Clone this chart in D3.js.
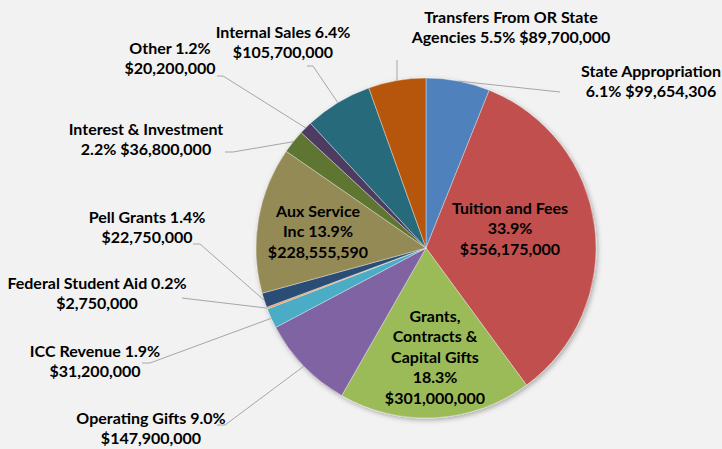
<!DOCTYPE html>
<html>
<head>
<meta charset="utf-8">
<script src="https://cdn.jsdelivr.net/npm/d3@7"></script>
<style>
  html, body { margin: 0; padding: 0; background: #f2f2f2; }
  svg { display: block; }
  text { font-family: Lato, "Open Sans", sans-serif; font-weight: 700; fill: #000; }
</style>
</head>
<body>
<svg id="chart"></svg>
<script>
const width = 722, height = 449;

// données (ordre horaire depuis midi)
const categories = ["State Appropriation", "Tuition and Fees", "Grants, Contracts & Capital Gifts",
  "Operating Gifts", "ICC Revenue", "Federal Student Aid", "Pell Grants", "Aux Service Inc",
  "Interest & Investment", "Other", "Internal Sales", "Transfers From OR State Agencies"];
const values = [99654306, 556175000, 301000000, 147900000, 31200000, 2750000,
  22750000, 228555590, 36800000, 20200000, 105700000, 89700000];
// texte des étiquettes, {p} = pourcentage, {v} = montant
const labelLines = [
  ["State Appropriation", "{p} {v}"],
  ["Tuition and Fees", "{p}", "{v}"],
  ["Grants,", "Contracts &", "Capital Gifts", "{p}", "{v}"],
  ["Operating Gifts {p}", "{v}"],
  ["ICC Revenue {p}", "{v}"],
  ["Federal Student Aid {p}", "{v}"],
  ["Pell Grants {p}", "{v}"],
  ["Aux Service", "Inc {p}", "{v}"],
  ["Interest & Investment", "{p} {v}"],
  ["Other {p}", "{v}"],
  ["Internal Sales {p}", "{v}"],
  ["Transfers From OR State", "Agencies {p} {v}"]
];

const colors = ["#4f81bd", "#c0504d", "#9bbb59", "#8064a2", "#4bacc6", "#f79646",
  "#2c4d75", "#948a54", "#5f7530", "#4d3b62", "#276a7c", "#b65708"];

// placement des étiquettes : centre x, y de la 1re ligne, coude de la ligne de rappel
const labelPos = [
  {x: 651, y: 71, elbow: [560, 92]},
  {x: 510, y: 208, inside: true},
  {x: 435, y: 316, inside: true},
  {x: 151, y: 418, elbow: [225, 425], end: [217, 425]},
  {x: 95, y: 351, elbow: [150, 363], end: [142, 363]},
  {x: 97, y: 283, elbow: [182, 298], end: [182, 298]},
  {x: 147, y: 217, elbow: [200, 244], end: [193, 244]},
  {x: 318, y: 211, inside: true},
  {x: 146, y: 129, elbow: [233, 152], end: [225, 152]},
  {x: 170, y: 48, elbow: [223, 76], end: [217, 76]},
  {x: 283, y: 32, elbow: [313, 66], end: [307, 66]},
  {x: 511, y: 17, elbow: [397, 60]}
];

const cx = 426, cy = 248, radius = 170, lineH = 20.5;

const svg = d3.select("#chart").attr("width", width).attr("height", height);

const defs = svg.append("defs");
const f = defs.append("filter").attr("id", "shadow")
  .attr("x", "-10%").attr("y", "-10%").attr("width", "130%").attr("height", "130%");
f.append("feDropShadow").attr("dx", 1.5).attr("dy", 2).attr("stdDeviation", 2.5)
  .attr("flood-color", "#000").attr("flood-opacity", 0.3);

const total = d3.sum(values);
const fmtPct = d3.format(".1%");
const fmtVal = d3.format("$,");

const data = categories.map((c, i) => ({
  name: c, value: values[i], color: colors[i],
  lines: labelLines[i].map(s => s.replace("{p}", fmtPct(values[i] / total)).replace("{v}", fmtVal(values[i]))),
  pos: labelPos[i]
}));

const pie = d3.pie().value(d => d.value).sort(null);
const arc = d3.arc().innerRadius(0).outerRadius(radius);
const arcs = pie(data);

const g = svg.append("g").attr("transform", `translate(${cx},${cy})`);

g.append("g").attr("filter", "url(#shadow)")
  .selectAll("path")
  .data(arcs)
  .enter().append("path")
  .attr("d", arc)
  .attr("fill", d => d.data.color)
  .attr("stroke", "#f2f2f2")
  .attr("stroke-width", 0.4);

// lignes de rappel
const edge = d3.arc().innerRadius(radius).outerRadius(radius);
svg.selectAll(".leader")
  .data(arcs.filter(d => !d.data.pos.inside))
  .enter().append("polyline")
  .attr("class", "leader")
  .attr("fill", "none")
  .attr("stroke", "#a6a6a6")
  .attr("stroke-width", 1)
  .attr("points", d => {
    const c = edge.centroid(d);
    const pts = [[cx + c[0], cy + c[1]], d.data.pos.elbow];
    if (d.data.pos.end) pts.push(d.data.pos.end);
    return pts.map(p => p.join(",")).join(" ");
  });

// étiquettes
const labels = svg.selectAll(".label")
  .data(data)
  .enter().append("text")
  .attr("class", "label")
  .attr("text-anchor", "middle")
  .attr("font-size", 16)
  .attr("transform", d => `translate(${d.pos.x},${d.pos.y})`);

labels.selectAll("tspan")
  .data(d => d.lines)
  .enter().append("tspan")
  .attr("x", 0)
  .attr("y", (s, i) => i * lineH)
  .attr("dy", "0.35em")
  .text(s => s);
</script>
</body>
</html>
